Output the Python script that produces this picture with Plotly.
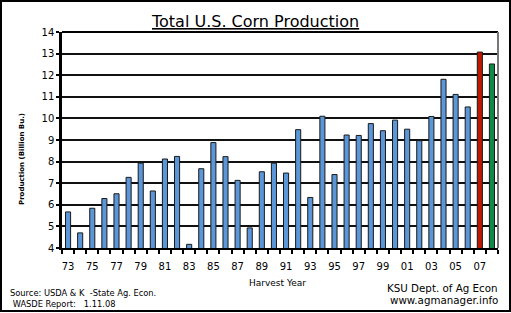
import plotly.graph_objects as go

years = list(range(1973, 2009))
production = [5.67, 4.70, 5.84, 6.29, 6.51, 7.27, 7.93, 6.64, 8.12, 8.24,
              4.17, 7.67, 8.88, 8.23, 7.13, 4.93, 7.53, 7.93, 7.47, 9.48,
              6.34, 10.10, 7.40, 9.23, 9.21, 9.76, 9.43, 9.92, 9.50, 8.97,
              10.09, 11.81, 11.11, 10.53, 13.07, 12.52]
bar_colors = ["#5a96d8"] * 34 + ["#c01800", "#108a48"]
tick_years = list(range(1973, 2008, 2))
tick_labels = ["73", "75", "77", "79", "81", "83", "85", "87", "89", "91",
               "93", "95", "97", "99", "01", "03", "05", "07"]

W, H = 511, 313
L, R, T, B = 62, 13, 32, 65
pw, ph = W - L - R, H - T - B

def px(x):
    return (x - L) / pw

def py(y):
    return (H - B - y) / ph

font = "DejaVu Sans"

fig = go.Figure(go.Bar(
    x=years, y=production,
    marker=dict(color=bar_colors, line=dict(color="#1a1a1a", width=1)),
    width=0.42,
))

fig.update_layout(
    width=W, height=H,
    margin=dict(l=L, r=R, t=T, b=B),
    paper_bgcolor="white", plot_bgcolor="white",
    showlegend=False,
    font=dict(family=font, color="black"),
    xaxis=dict(
        range=[1972.5, 2008.5],
        tickmode="array", tickvals=tick_years, ticktext=tick_labels,
        ticks="", tickfont=dict(size=10),
        showgrid=False, showline=True, linecolor="black", linewidth=2,
        mirror=False, zeroline=False,
        minor=dict(tick0=1972.5, dtick=1, ticks="outside", ticklen=4,
                   tickwidth=2, tickcolor="black", showgrid=False),
        ticklabelstandoff=8,
    ),
    yaxis=dict(
        range=[4, 14], dtick=1, tickfont=dict(size=10),
        ticks="outside", ticklen=3, tickwidth=2, tickcolor="black",
        showgrid=True, gridcolor="#111111", gridwidth=1.6,
        showline=True, linecolor="black", linewidth=2.5,
        zeroline=False,
    ),
    shapes=[
        dict(type="line", xref="paper", yref="paper", x0=0, x1=1, y0=1, y1=1,
             line=dict(color="black", width=2)),
        dict(type="line", xref="paper", yref="paper", x0=1, x1=1, y0=0, y1=1,
             line=dict(color="#777777", width=2)),
        dict(type="rect", xref="paper", yref="paper",
             x0=px(1), x1=px(510), y0=py(311), y1=py(1),
             line=dict(color="black", width=2)),
    ],
    annotations=[
        dict(text="<u>Total U.S. Corn Production</u>", xref="paper", yref="paper",
             x=px(255), y=py(21), showarrow=False, font=dict(size=16),
             xanchor="center", yanchor="middle"),
        dict(text="<b>Production (Billion Bu.)</b>", xref="paper", yref="paper",
             x=px(22), y=py(159), textangle=-90, showarrow=False,
             font=dict(size=7), xanchor="center", yanchor="middle"),
        dict(text="Harvest Year", xref="paper", yref="paper",
             x=px(277), y=py(283), showarrow=False, font=dict(size=9),
             xanchor="center", yanchor="middle"),
        dict(text="Source: USDA & K  -State Ag. Econ.", xref="paper", yref="paper",
             x=px(8), y=py(293), showarrow=False, font=dict(size=8.3),
             xanchor="left", yanchor="middle"),
        dict(text=" WASDE Report:   1.11.08", xref="paper", yref="paper",
             x=px(8), y=py(304), showarrow=False, font=dict(size=8.3),
             xanchor="left", yanchor="middle"),
        dict(text="KSU Dept. of Ag Econ", xref="paper", yref="paper",
             x=px(442), y=py(288), showarrow=False, font=dict(size=10.3),
             xanchor="center", yanchor="middle"),
        dict(text="www.agmanager.info", xref="paper", yref="paper",
             x=px(444), y=py(300), showarrow=False, font=dict(size=10.3),
             xanchor="center", yanchor="middle"),
    ],
)

fig.write_html("out.html", config={"displayModeBar": False},
               post_script="document.body.style.margin='0';document.body.style.overflow='hidden';")
